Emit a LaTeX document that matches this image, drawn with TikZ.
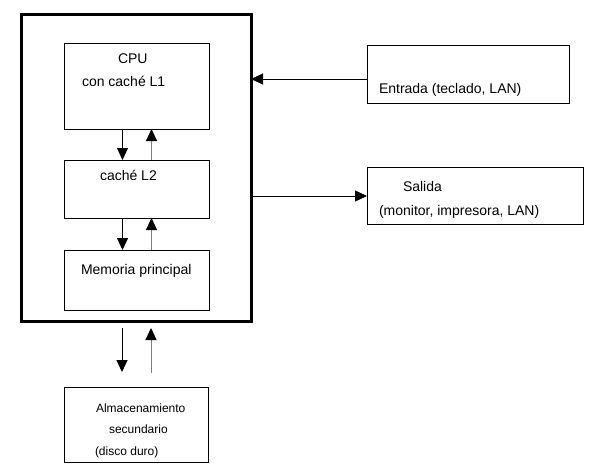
\documentclass[tikz,border=0pt]{standalone}
\usepackage{fontspec}
\setmainfont{Liberation Sans}
\usetikzlibrary{arrows.meta}
\tikzset{
  box/.style={draw=black, line width=1pt, rectangle, inner sep=0pt, outer sep=0pt},
  outerbox/.style={draw=black, line width=3pt, rectangle, inner sep=0pt, outer sep=0pt},
  lbl/.style={anchor=base west, inner sep=0pt, outer sep=0pt, font=\fontsize{14}{16}\selectfont},
  slbl/.style={lbl, font=\fontsize{12}{14}\selectfont},
  arr/.style={line width=1pt, -{Triangle[width=11pt,length=12pt]}},
  arrg/.style={line width=1pt, draw=black!50, -{Triangle[width=11pt,length=12pt,color=black]}}
}
\begin{document}
\begin{tikzpicture}[x=1pt,y=-1pt]
\useasboundingbox (0,0) rectangle (600,474);
% outer system box
\node[outerbox, minimum width=230pt, minimum height=307pt] (sys) at (136,167.5) {};
% inner boxes
\node[box, minimum width=145pt, minimum height=86pt] (cpu) at (136.5,86) {};
\node[box, minimum width=145pt, minimum height=58pt] (l2) at (136.5,189) {};
\node[box, minimum width=145pt, minimum height=60pt] (mem) at (136.5,280) {};
\node[box, minimum width=202pt, minimum height=58pt] (inp) at (468,74) {};
\node[box, minimum width=216pt, minimum height=57pt] (outp) at (475,195.5) {};
\node[box, minimum width=144pt, minimum height=75pt] (sto) at (136,424.5) {};
% labels
\node[lbl] (tcpu) at (118,63) {CPU};
\node[lbl] (tl1) at (82,86) {con caché L1};
\node[lbl] (tl2) at (100,180) {caché L2};
\node[lbl] (tmem) at (81,274) {Memoria principal};
\node[lbl] (tin) at (379,93) {Entrada (teclado, LAN)};
\node[lbl] (tout1) at (403,191) {Salida};
\node[lbl] (tout2) at (379,215) {(monitor, impresora, LAN)};
\node[slbl] (tsto1) at (96,412) {Almacenamiento};
\node[slbl] (tsto2) at (109,433) {secundario};
\node[slbl] (tsto3) at (95,455) {(disco duro)};
% vertical arrows inside
\draw[arr] (cpu.south -| 122.5,0) -- (l2.north -| 122.5,0);
\draw[arrg] (l2.north -| 151.5,0) -- (cpu.south -| 151.5,0);
\draw[arr] (l2.south -| 122.5,0) -- (mem.north -| 122.5,0);
\draw[arrg] (mem.north -| 151.5,0) -- (l2.south -| 151.5,0);
% bottom arrows (free ends)
\coordinate (d1) at (122,328);
\coordinate (d2) at (122,372);
\coordinate (u1) at (151,373);
\coordinate (u2) at (151,328);
\draw[arr] (d1) -- (d2);
\draw[arrg] (u1) -- (u2);
% input / output arrows
\draw[arr] (inp.west |- 0,79) -- (sys.east |- 0,79);
\draw[arr] (sys.east |- 0,196) -- (outp.west |- 0,196);
\end{tikzpicture}
\end{document}
